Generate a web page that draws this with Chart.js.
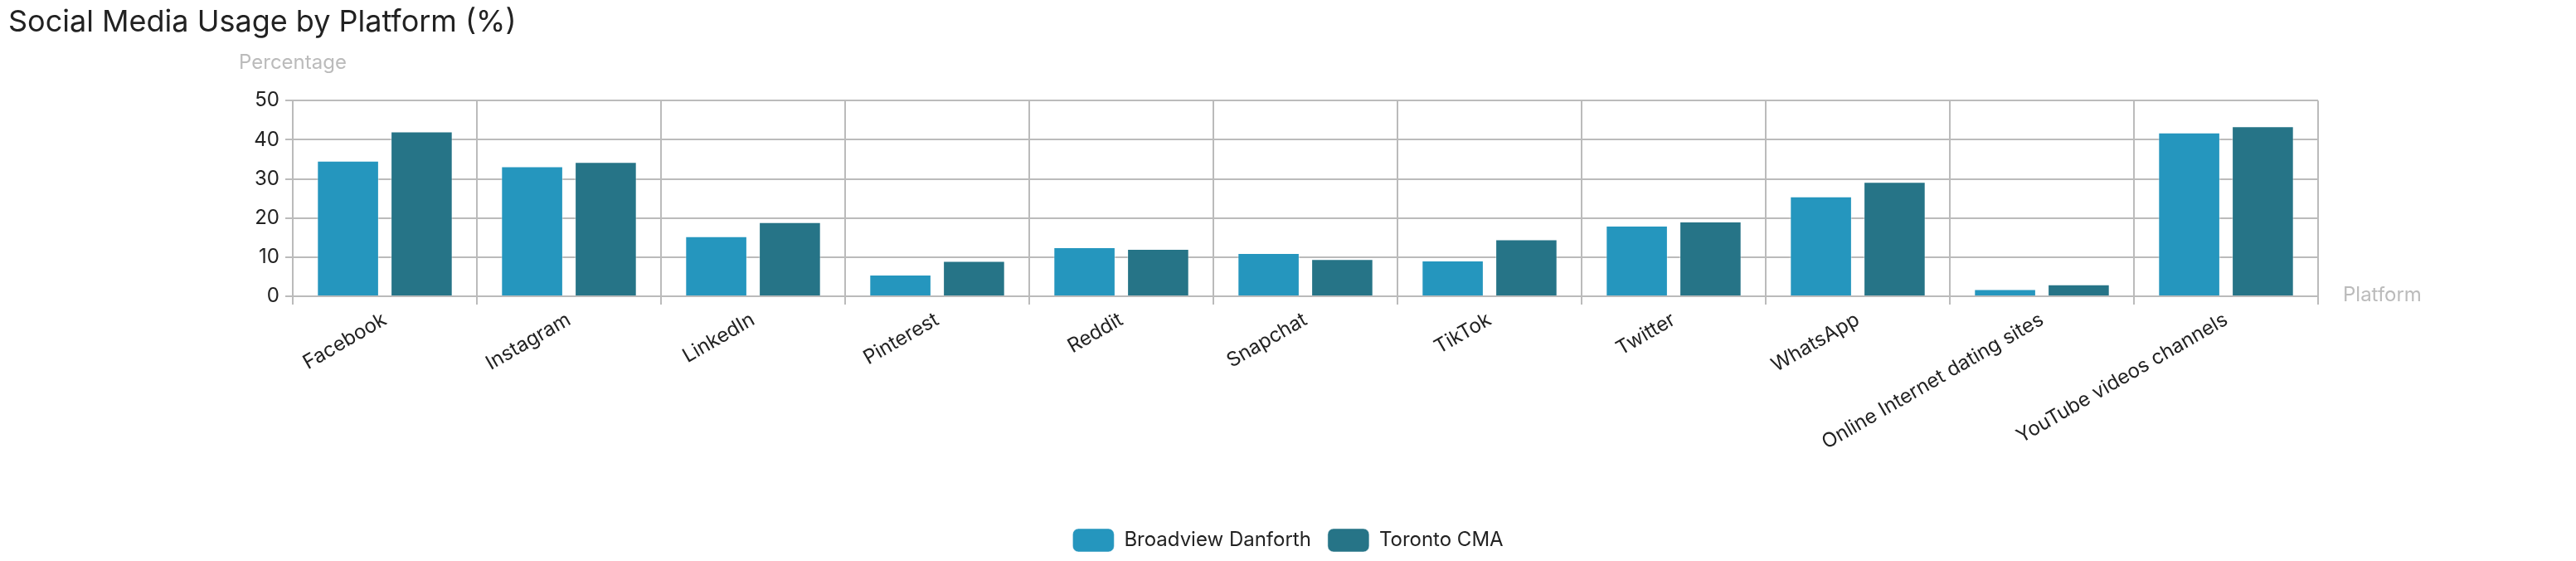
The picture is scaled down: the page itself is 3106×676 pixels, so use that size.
<!DOCTYPE html>
<html>
<head>
<meta charset="utf-8">
<title>Social Media Usage by Platform (%)</title>
<script src="https://cdn.jsdelivr.net/npm/chart.js@4.4.0/dist/chart.umd.min.js"></script>
<style>
  html, body { margin: 0; padding: 0; background: #fff; }
  #wrap { width: 3106px; height: 676px; position: relative; }
</style>
</head>
<body>
<div id="wrap"><canvas id="usoChart"></canvas></div>
<script>
// categorias y series
const plataformas = [
  "Facebook", "Instagram", "LinkedIn", "Pinterest", "Reddit", "Snapchat",
  "TikTok", "Twitter", "WhatsApp", "Online Internet dating sites",
  "YouTube videos channels"
];
const broadviewDanforth = [34.6, 33.2, 15.3, 5.5, 12.5, 11.0, 9.1, 18.0, 25.5, 1.8, 41.8];
const torontoCMA = [42.1, 34.3, 18.9, 9.0, 12.1, 9.5, 14.5, 19.1, 29.2, 3.0, 43.4];
const ticksY = [0, 10, 20, 30, 40, 50];

const FONT = "Inter, 'Noto Sans', sans-serif";
const GRIS = "#bbbbbb";

// nombres de ejes al estilo "nombre en el extremo"
const nombresEjes = {
  id: "nombresEjes",
  afterDraw(chart) {
    const { ctx, chartArea } = chart;
    ctx.save();
    ctx.font = `24px ${FONT}`;
    ctx.fillStyle = GRIS;
    ctx.textBaseline = "middle";
    ctx.textAlign = "center";
    ctx.fillText("Percentage", chartArea.left, chartArea.top - 45);
    ctx.textAlign = "left";
    ctx.fillText("Platform", chartArea.right + 30, chartArea.bottom - 1);
    ctx.restore();
  },
};

new Chart(document.getElementById("usoChart"), {
  type: "bar",
  data: {
    labels: plataformas,
    datasets: [
      {
        label: "Broadview Danforth",
        data: broadviewDanforth,
        backgroundColor: "#2596be",
        borderColor: "rgba(255,255,255,0.45)",
        borderWidth: 1,
        barPercentage: 0.84,
        categoryPercentage: 0.8,
      },
      {
        label: "Toronto CMA",
        data: torontoCMA,
        backgroundColor: "#267487",
        borderColor: "rgba(255,255,255,0.45)",
        borderWidth: 1,
        barPercentage: 0.84,
        categoryPercentage: 0.8,
      },
    ],
  },
  options: {
    responsive: true,
    maintainAspectRatio: false,
    animation: false,
    layout: { padding: { left: 10, right: 10, top: 0, bottom: 1 } },
    plugins: {
      title: {
        display: true,
        text: "Social Media Usage by Platform (%)",
        align: "start",
        color: "#222222",
        font: { family: FONT, size: 36, weight: "normal" },
        padding: { top: 6, bottom: 72 },
      },
      legend: {
        position: "bottom",
        labels: {
          color: "#222222",
          font: { family: FONT, size: 24 },
          boxWidth: 50,
          boxHeight: 28,
          useBorderRadius: true,
          borderRadius: 7,
          padding: 20,
        },
      },
      tooltip: { enabled: false },
    },
    scales: {
      x: {
        grid: { color: GRIS, lineWidth: 2, tickLength: 10, offset: true },
        border: { color: GRIS, width: 2 },
        ticks: {
          color: "#222222",
          font: { family: FONT, size: 24 },
          autoSkip: false,
          minRotation: 30,
          maxRotation: 30,
          padding: 4,
        },
        afterFit: (scale) => { scale.height = 260; },
      },
      y: {
        min: 0,
        max: 50,
        afterBuildTicks: (scale) => {
          scale.ticks = ticksY.map((v) => ({ value: v }));
        },
        grid: { color: GRIS, lineWidth: 2, tickLength: 9 },
        border: { color: GRIS, width: 2 },
        ticks: {
          color: "#222222",
          font: { family: FONT, size: 24 },
          padding: 7,
        },
        afterFit: (scale) => { scale.width = 343; },
      },
      // eje fantasma a la derecha para reservar el hueco de "Platform"
      derecha: {
        position: "right",
        grid: { display: false },
        border: { display: false },
        ticks: { display: false },
        afterFit: (scale) => { scale.width = 301; },
      },
    },
  },
  plugins: [nombresEjes],
});
</script>
</body>
</html>
